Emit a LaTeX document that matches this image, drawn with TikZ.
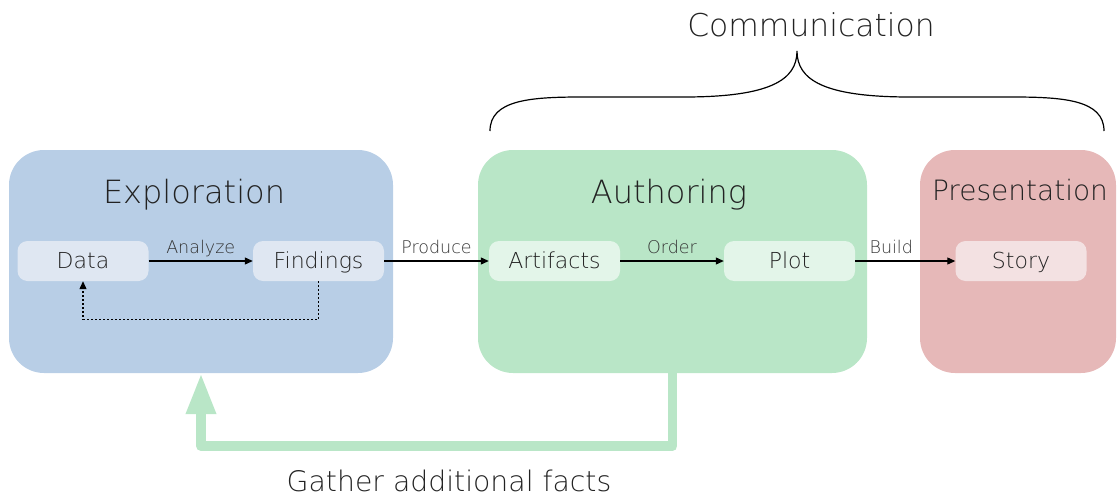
\documentclass[tikz,border=0pt]{standalone}
\usepackage{fontspec}
\newfontfamily\xl{DejaVu Sans ExtraLight}
\usetikzlibrary{arrows.meta}

\definecolor{expbg}{HTML}{B8CEE6}
\definecolor{expin}{HTML}{DFE7F2}
\definecolor{autbg}{HTML}{B9E6C7}
\definecolor{autin}{HTML}{E3F5E9}
\definecolor{prebg}{HTML}{E6B8B8}
\definecolor{prein}{HTML}{F3E1E2}
\definecolor{ink}{HTML}{222222}
\definecolor{lblink}{HTML}{333333}

\tikzset{
  stage/.style={rectangle, rounded corners=35pt, inner sep=0pt, draw=none,
    minimum height=223pt},
  stagetitle/.style={anchor=base, inner sep=0pt, text=ink, font=\xl\fontsize{32}{36}\selectfont},
  item/.style={rectangle, rounded corners=10pt, inner sep=0pt, draw=none,
    minimum width=131pt, minimum height=40pt, text=ink,
    text height=15.8pt, text depth=0pt, font=\xl\fontsize{22}{25}\selectfont},
  lbl/.style={anchor=base, inner sep=0pt, text=lblink, yshift=8pt,
    font=\xl\fontsize{17.5}{20}\selectfont},
  flow/.style={line width=1.1pt, -{Triangle[length=8pt,width=7pt]}},
  loopback/.style={line width=1.1pt, dash pattern=on 2pt off 2pt,
    -{Triangle[length=8pt,width=7pt]}},
  feedback/.style={line width=9.5pt, draw=autbg, line join=round,
    -{Triangle[length=41pt,width=28pt]}},
  brace/.style={line width=1.2pt}
}

\begin{document}
\begin{tikzpicture}[x=1pt, y=-1pt]
  \useasboundingbox (0,0) rectangle (1117,498);

  % stage panels
  \node[stage, fill=expbg, minimum width=384pt] (exp) at (201,261.5) {};
  \node[stage, fill=autbg, minimum width=389pt] (aut) at (672.5,261.5) {};
  \node[stage, fill=prebg, minimum width=196pt] (pre) at (1018,261.5) {};

  \node[stagetitle] (expT) at (194,203) {Exploration};
  \node[stagetitle] (autT) at (669,203) {Authoring};
  \node[stagetitle, font=\xl\fontsize{28}{32}\selectfont] (preT) at (1020,200) {Presentation};

  % items inside each stage
  \node[item, fill=expin] (data) at (83,261) {Data};
  \node[item, fill=expin] (find) at (318.5,261) {Findings};
  \node[item, fill=autin] (art) at (554.5,261) {Artifacts};
  \node[item, fill=autin] (plot) at (789.5,261) {Plot};
  \node[item, fill=prein] (story) at (1021,261) {Story};

  % flow between items
  \draw[flow] (data) -- node[lbl] {Analyze} (find);
  \draw[flow] (find) -- node[lbl] {Produce} (art);
  \draw[flow] (art) -- node[lbl] {Order} (plot);
  \draw[flow] (plot) -- node[lbl, xshift=-14pt] {Build} (story);

  % iteration inside exploration
  \draw[loopback] (find.south) -- ++(0,38) -| (data.south);

  % feedback from authoring to exploration
  \draw[feedback] (aut.south) -- ++(0,73) -| (exp.south);
  \node[anchor=base, inner sep=0pt, text=ink, font=\xl\fontsize{28.3}{31}\selectfont]
    (gather) at (449,491) {Gather additional facts};

  % brace over authoring and presentation
  \coordinate (bl) at (490,131);
  \coordinate (bt) at (797,51);
  \coordinate (br) at (1104,131);
  \draw[brace] (bl) .. controls (490,100) and (530,97) .. (582,97)
    -- (684,97) .. controls (770,97) and (797,80) .. (bt)
    .. controls (797,80) and (824,97) .. (910,97)
    -- (1012,97) .. controls (1064,97) and (1104,100) .. (br);
  \node[anchor=base, inner sep=0pt, text=ink, font=\xl\fontsize{31.4}{34}\selectfont]
    (comm) at (811,36) {Communication};
\end{tikzpicture}
\end{document}
